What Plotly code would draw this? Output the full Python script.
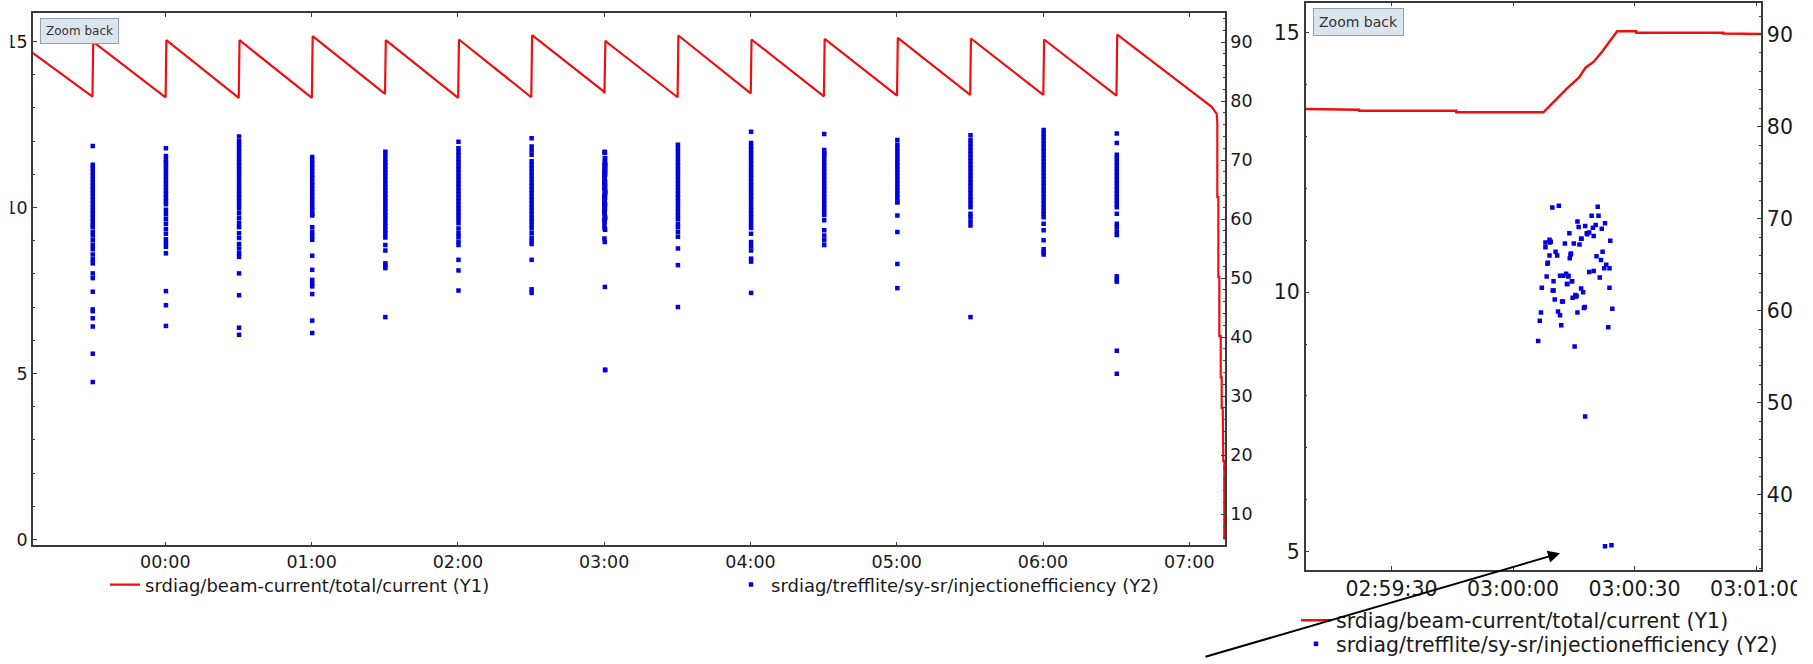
import plotly.graph_objects as go
import pandas as pd

W, H = 1813, 664

# ---------------- data: beam current (Y1) ----------------
red_time = [
    "2015-03-09 23:05:00",
    "2015-03-09 23:30:07", "2015-03-09 23:30:26",
    "2015-03-10 00:00:07", "2015-03-10 00:00:26",
    "2015-03-10 00:30:07", "2015-03-10 00:30:26",
    "2015-03-10 01:00:07", "2015-03-10 01:00:26",
    "2015-03-10 01:30:07", "2015-03-10 01:30:26",
    "2015-03-10 02:00:07", "2015-03-10 02:00:26",
    "2015-03-10 02:30:07", "2015-03-10 02:30:26",
    "2015-03-10 02:59:22", "2015-03-10 02:59:22", "2015-03-10 02:59:46", "2015-03-10 02:59:46",
    "2015-03-10 03:00:07.5", "2015-03-10 03:00:13.2", "2015-03-10 03:00:16.3", "2015-03-10 03:00:17.9",
    "2015-03-10 03:00:20.0", "2015-03-10 03:00:22.1", "2015-03-10 03:00:23.7", "2015-03-10 03:00:25.7",
    "2015-03-10 03:00:30.4", "2015-03-10 03:00:30.4", "2015-03-10 03:00:51.9", "2015-03-10 03:00:51.9",
    "2015-03-10 03:30:07", "2015-03-10 03:30:26",
    "2015-03-10 04:00:07", "2015-03-10 04:00:26",
    "2015-03-10 04:30:07", "2015-03-10 04:30:26",
    "2015-03-10 05:00:07", "2015-03-10 05:00:26",
    "2015-03-10 05:30:07", "2015-03-10 05:30:26",
    "2015-03-10 06:00:07", "2015-03-10 06:00:26",
    "2015-03-10 06:30:07", "2015-03-10 06:30:26",
    "2015-03-10 07:09:11", "2015-03-10 07:11:14",
    "2015-03-10 07:11:29", "2015-03-10 07:11:29", "2015-03-10 07:11:54", "2015-03-10 07:11:54",
    "2015-03-10 07:12:18", "2015-03-10 07:12:18", "2015-03-10 07:12:53", "2015-03-10 07:12:53",
    "2015-03-10 07:13:17", "2015-03-10 07:13:17", "2015-03-10 07:13:42", "2015-03-10 07:13:42",
    "2015-03-10 07:13:57", "2015-03-10 07:13:57", "2015-03-10 07:14:21", "2015-03-10 07:14:21",
]
red_value = [
    14.69,
    13.34, 14.99,
    13.32, 15.04,
    13.30, 15.04,
    13.30, 15.16,
    13.42, 15.04,
    13.30, 15.06,
    13.32, 15.19,
    13.52, 13.50, 13.50, 13.47,
    13.47, 13.92, 14.14, 14.33,
    14.45, 14.65, 14.81, 15.03,
    15.03, 15.005, 15.005, 14.99,
    13.32, 15.18,
    13.44, 15.06,
    13.35, 15.08,
    13.37, 15.11,
    13.39, 15.09,
    13.39, 15.06,
    13.37, 15.21,
    13.03, 12.82,
    12.55, 10.31, 10.31, 7.91,
    7.91, 6.13, 6.13, 4.88,
    4.88, 3.96, 3.96, 2.93,
    2.93, 2.36, 2.36, 0.0,
]

# ---------------- data: injection efficiency (Y2) ----------------
eff_2330 = [72.4, 69.2, 68.6, 68.0, 67.4, 66.8, 66.2, 65.6, 65.0, 64.4, 63.8, 63.2, 62.6, 62.0,
            61.4, 60.8, 60.2, 59.6, 59.0, 58.6, 57.8, 57.2, 56.4, 55.6, 54.9, 54.0, 53.2, 52.5,
            50.8, 50.0, 47.7, 44.7, 44.4, 43.2, 41.8, 37.2, 32.4]
eff_0000 = [72.0, 70.7, 70.0, 69.6, 69.0, 68.4, 67.8, 67.2, 66.6, 66.0, 65.4, 64.8, 64.2, 63.6,
            63.0, 62.5, 61.6, 60.8, 60.0, 59.2, 58.3, 57.5, 56.6, 55.9, 55.3, 54.2, 47.8, 45.4, 41.9]
eff_0030 = [74.0, 73.2, 72.6, 72.0, 71.4, 70.8, 70.2, 69.6, 69.0, 68.4, 67.8, 67.2, 66.6, 66.0,
            65.4, 64.8, 64.2, 63.6, 63.0, 62.4, 61.8, 61.0, 60.2, 59.4, 58.6, 57.6, 56.8, 55.8,
            55.0, 54.2, 53.6, 50.8, 47.1, 41.6, 40.4]
eff_0100 = [70.5, 69.9, 69.3, 68.7, 68.1, 67.5, 66.9, 66.3, 65.7, 65.1, 64.5, 63.9, 63.3, 62.7,
            62.1, 61.5, 60.9, 60.6, 58.6, 57.8, 57.1, 56.5, 53.8, 51.4, 49.7, 49.1, 48.6, 47.3,
            42.8, 40.7]
eff_0130 = [71.4, 70.8, 70.2, 69.6, 69.0, 68.4, 67.8, 67.2, 66.6, 66.0, 65.4, 64.8, 64.2, 63.6,
            63.0, 62.4, 61.8, 61.2, 60.6, 60.0, 59.4, 58.8, 58.1, 57.5, 56.9, 55.6, 54.7, 52.5,
            52.1, 51.7, 43.4]
eff_0200 = [73.1, 72.0, 71.4, 70.8, 70.2, 69.6, 69.0, 68.4, 67.8, 67.2, 66.6, 66.0, 65.4, 64.8,
            64.2, 63.6, 63.0, 62.4, 61.8, 61.2, 60.6, 60.0, 59.3, 58.4, 57.6, 57.0, 56.2, 55.6,
            53.1, 51.3, 47.9]
eff_0230 = [73.7, 72.3, 71.6, 70.9, 69.8, 69.2, 68.6, 68.0, 67.4, 66.8, 66.2, 65.6, 65.0, 64.4,
            63.8, 63.2, 62.6, 62.0, 61.4, 60.8, 60.2, 59.6, 59.0, 58.4, 57.6, 56.8, 56.2, 55.8,
            53.1, 48.1, 47.5]
eff_0330 = [72.6, 72.0, 71.4, 70.8, 70.2, 69.6, 69.0, 68.4, 67.8, 67.2, 66.6, 66.0, 65.4, 64.8,
            64.2, 63.6, 63.0, 62.4, 61.8, 61.2, 60.6, 60.0, 59.2, 58.6, 57.8, 57.0, 55.0, 52.2, 45.1]
eff_0400 = [74.8, 72.9, 72.3, 71.7, 71.1, 70.5, 69.9, 69.3, 68.7, 68.1, 67.5, 66.9, 66.3, 65.7,
            65.1, 64.5, 63.9, 63.3, 62.7, 62.1, 61.5, 60.9, 60.3, 59.7, 59.1, 58.5, 57.5, 56.1,
            55.4, 54.7, 53.3, 52.8, 47.5]
eff_0430 = [74.4, 71.7, 71.2, 70.9, 70.3, 69.7, 69.1, 68.5, 67.9, 67.3, 66.7, 66.1, 65.5, 64.9,
            64.3, 63.7, 63.1, 62.5, 61.9, 61.3, 60.7, 59.8, 58.1, 57.2, 56.4, 55.6]
eff_0500 = [73.4, 72.6, 72.0, 71.4, 70.8, 70.2, 69.6, 69.0, 68.4, 67.8, 67.2, 66.6, 66.0, 65.4,
            64.8, 64.2, 63.6, 63.0, 62.8, 60.6, 57.8, 52.4, 48.3]
eff_0530 = [74.2, 73.4, 72.8, 72.2, 71.6, 71.0, 70.4, 69.8, 69.2, 68.6, 68.0, 67.4, 66.8, 66.2,
            65.6, 65.0, 64.4, 63.8, 63.2, 62.6, 62.0, 60.9, 60.3, 59.6, 58.9, 43.4]
eff_0600 = [75.1, 74.5, 73.9, 73.3, 72.7, 72.1, 71.5, 70.9, 70.3, 69.7, 69.1, 68.5, 67.9, 67.3,
            66.7, 66.1, 65.5, 64.9, 64.3, 63.7, 63.1, 62.5, 61.9, 61.3, 60.9, 60.3, 59.2, 58.1,
            56.4, 54.9, 54.4, 54.0]
eff_0630 = [74.5, 72.9, 70.9, 70.3, 69.7, 69.1, 68.5, 67.9, 67.3, 66.7, 66.1, 65.5, 64.9, 64.3,
            63.7, 63.1, 62.5, 62.0, 60.9, 59.2, 58.6, 57.9, 57.3, 50.3, 49.8, 49.4, 37.7, 33.8]

cluster_times = [
    "2015-03-09 23:30:15", "2015-03-10 00:00:15", "2015-03-10 00:30:15", "2015-03-10 01:00:15",
    "2015-03-10 01:30:15", "2015-03-10 02:00:15", "2015-03-10 02:30:15", "2015-03-10 03:30:15",
    "2015-03-10 04:00:15", "2015-03-10 04:30:15", "2015-03-10 05:00:15", "2015-03-10 05:30:15",
    "2015-03-10 06:00:15", "2015-03-10 06:30:15",
]
cluster_values = [eff_2330, eff_0000, eff_0030, eff_0100, eff_0130, eff_0200, eff_0230,
                  eff_0330, eff_0400, eff_0430, eff_0500, eff_0530, eff_0600, eff_0630]

# 03:00 injection: seconds after 03:00:00 and efficiency
eff_0300_base = "2015-03-10 03:00:00"
eff_0300_sec = [9.7, 11.3, 20.9, 19.4, 21.1, 15.9, 16.2, 17.8, 20.4, 22.7,
                21.9, 19.7, 18.8, 18.3, 19.9, 16.8, 13.9, 8.0, 9.3, 9.0,
                8.0, 12.8, 15.0, 16.4, 24.0, 10.5, 10.9, 9.0, 14.2, 14.0,
                20.6, 22.1, 21.7, 8.5, 23.0, 22.5, 23.8, 18.8, 19.9, 8.3,
                10.0, 11.6, 13.1, 12.4, 13.6, 14.5, 13.4, 21.4, 7.1, 9.8,
                16.8, 17.3, 23.8, 15.4, 10.3, 12.1, 14.7, 15.4, 6.9, 6.6,
                11.1, 11.6, 15.9, 17.5, 24.5, 11.9, 23.5, 6.2, 15.2, 17.8,
                22.7, 24.3, 9.1, 16.9, 14.3, 8.6, 13.7, 13.3, 14.6, 10.0,
                12.3, 15.7, 18.2, 17.7]
eff_0300_val = [71.2, 71.4, 71.3, 70.3, 70.3, 69.7, 69.1, 69.2, 69.3, 69.5,
                68.9, 69.0, 68.5, 68.3, 68.1, 67.8, 68.4, 67.4, 67.5, 67.7,
                66.9, 67.3, 67.3, 67.2, 67.6, 66.4, 66.0, 66.0, 66.1, 65.7,
                65.9, 66.4, 65.5, 65.1, 65.0, 64.6, 64.6, 64.2, 64.3, 63.7,
                63.2, 63.8, 64.0, 63.8, 63.7, 63.2, 62.9, 63.6, 62.5, 62.2,
                62.4, 62.0, 62.5, 61.7, 61.2, 61.0, 61.4, 61.5, 59.8, 58.9,
                59.9, 59.5, 59.8, 60.3, 60.2, 58.4, 58.2, 56.7, 56.1, 48.5,
                34.4, 34.5, 67.4, 67.8, 66.2, 65.2, 63.8, 62.9, 63.2, 62.2,
                61.0, 61.6, 68.4, 60.4]

name_cur = "srdiag/beam-current/total/current (Y1)"
name_eff = "srdiag/trefflite/sy-sr/injectionefficiency (Y2)"

# ---------------- build scatter arrays ----------------
blue_x, blue_y = [], []
for t, vals in zip(cluster_times, cluster_values):
    blue_x += [pd.Timestamp(t)] * len(vals)
    blue_y += list(vals)
base = pd.Timestamp(eff_0300_base)
blue_x += [base + pd.Timedelta(seconds=s) for s in eff_0300_sec]
blue_y += list(eff_0300_val)
red_x = [pd.Timestamp(t) for t in red_time]

RED = "#ee1010"
BLUE = "#0000e0"
FONT = "DejaVu Sans"
TXT = "#1a1a1a"
AX = "#3a3a3a"

fig = go.Figure()
fig.add_trace(go.Scatter(x=red_x, y=red_value, mode="lines", name=name_cur,
                         line=dict(color=RED, width=2.2), xaxis="x", yaxis="y", legend="legend"))
fig.add_trace(go.Scatter(x=blue_x, y=blue_y, mode="markers", name=name_eff,
                         marker=dict(symbol="square", size=4.5, color=BLUE, line=dict(width=0)),
                         xaxis="x", yaxis="y2", legend="legend2"))
fig.add_trace(go.Scatter(x=red_x, y=red_value, mode="lines", name=name_cur,
                         line=dict(color=RED, width=2.5), xaxis="x2", yaxis="y3", legend="legend3"))
fig.add_trace(go.Scatter(x=blue_x, y=blue_y, mode="markers", name=name_eff,
                         marker=dict(symbol="square", size=4.5, color=BLUE, line=dict(width=0)),
                         xaxis="x2", yaxis="y4", legend="legend4"))


def px(p):
    return p / W


def py(p):
    return 1 - p / H


def axis_common(size):
    return dict(showgrid=False, zeroline=False, showline=True, linecolor=AX, linewidth=1.5,
                ticks="inside", ticklen=4, tickcolor=AX, tickwidth=1,
                tickfont=dict(family=FONT, size=size, color=TXT), automargin=False)


L_SIZE = 17.5
R_SIZE = 20.5
R_LEFT, R_RIGHT = 1305.6, 1761

fig.update_layout(
    template="none",
    width=W, height=H,
    margin=dict(l=0, r=0, t=0, b=0),
    paper_bgcolor="white", plot_bgcolor="white",
    font=dict(family=FONT, color=TXT),
    showlegend=True,
    xaxis=dict(domain=[px(33), px(1225)], anchor="y", type="date",
               range=["2015-03-09 23:05:44", "2015-03-10 07:14:38"],
               dtick=3600000, tick0="2015-03-10 00:00:00", tickformat="%H:%M",
               mirror="ticks", **axis_common(L_SIZE)),
    yaxis=dict(domain=[py(552), py(13)], anchor="x", range=[-0.179, 15.863],
               tickmode="linear", tick0=0, dtick=5,
               minor=dict(dtick=1, ticks="inside", ticklen=2, tickcolor=AX),
               **axis_common(L_SIZE)),
    yaxis2=dict(overlaying="y", side="right", anchor="x", range=[4.73, 94.94],
                tickmode="linear", tick0=0, dtick=10,
                minor=dict(dtick=2, ticks="inside", ticklen=2, tickcolor=AX),
                **axis_common(L_SIZE)),
    xaxis2=dict(domain=[px(R_LEFT), px(R_RIGHT)], anchor="y3", type="date",
                range=["2015-03-10 02:59:08.8", "2015-03-10 03:01:01.2"],
                dtick=30000, tick0="2015-03-10 03:00:00", tickformat="%H:%M:%S",
                mirror="ticks", **axis_common(R_SIZE)),
    yaxis3=dict(domain=[py(576.7), py(2.7)], anchor="x2", range=[4.65, 15.583],
                tickmode="linear", tick0=0, dtick=5,
                minor=dict(dtick=1, ticks="inside", ticklen=2, tickcolor=AX),
                **axis_common(R_SIZE)),
    yaxis4=dict(overlaying="y3", side="right", anchor="x2", range=[31.84, 93.47],
                tickmode="linear", tick0=0, dtick=10,
                minor=dict(dtick=2, ticks="inside", ticklen=2, tickcolor=AX),
                **axis_common(R_SIZE)),
    legend=dict(x=px(105), xanchor="left", y=py(592), yanchor="middle",
                font=dict(family=FONT, size=18, color=TXT), bgcolor="rgba(0,0,0,0)", borderwidth=0),
    legend2=dict(x=px(731), xanchor="left", y=py(592), yanchor="middle",
                 font=dict(family=FONT, size=18, color=TXT), bgcolor="rgba(0,0,0,0)", borderwidth=0),
    legend3=dict(x=px(1296), xanchor="left", y=py(628), yanchor="middle",
                 font=dict(family=FONT, size=R_SIZE, color=TXT), bgcolor="rgba(0,0,0,0)", borderwidth=0),
    legend4=dict(x=px(1296), xanchor="left", y=py(652), yanchor="middle",
                 font=dict(family=FONT, size=R_SIZE, color=TXT), bgcolor="rgba(0,0,0,0)", borderwidth=0),
)

# "Zoom back" buttons
fig.add_annotation(xref="paper", yref="paper", x=px(40), y=py(18), xanchor="left", yanchor="top",
                   text="Zoom back", showarrow=False, font=dict(family=FONT, size=12, color="#333"),
                   bgcolor="#dce5ee", bordercolor="#8fa3b8", borderwidth=1, borderpad=5)
fig.add_annotation(xref="paper", yref="paper", x=px(R_LEFT + 7.5), y=py(8), xanchor="left", yanchor="top",
                   text="Zoom back", showarrow=False, font=dict(family=FONT, size=14, color="#333"),
                   bgcolor="#dce5ee", bordercolor="#8fa3b8", borderwidth=1, borderpad=5)

# arrow pointing at the 03:00 injection
fig.add_annotation(xref="paper", yref="paper", x=px(1560), y=py(560), text="", showarrow=True,
                   ax=1204 - 1560, ay=664 - 560, arrowhead=2, arrowsize=1.2, arrowwidth=2,
                   arrowcolor="black")

# the original screenshots are cropped at the left and right edges
fig.add_shape(type="rect", xref="paper", yref="paper", x0=0, x1=px(10.5), y0=py(560), y1=1,
              fillcolor="white", line=dict(width=0), layer="above")
fig.add_shape(type="rect", xref="paper", yref="paper", x0=px(1797), x1=1, y0=py(615), y1=py(580),
              fillcolor="white", line=dict(width=0), layer="above")

fig.write_html("out.html")
